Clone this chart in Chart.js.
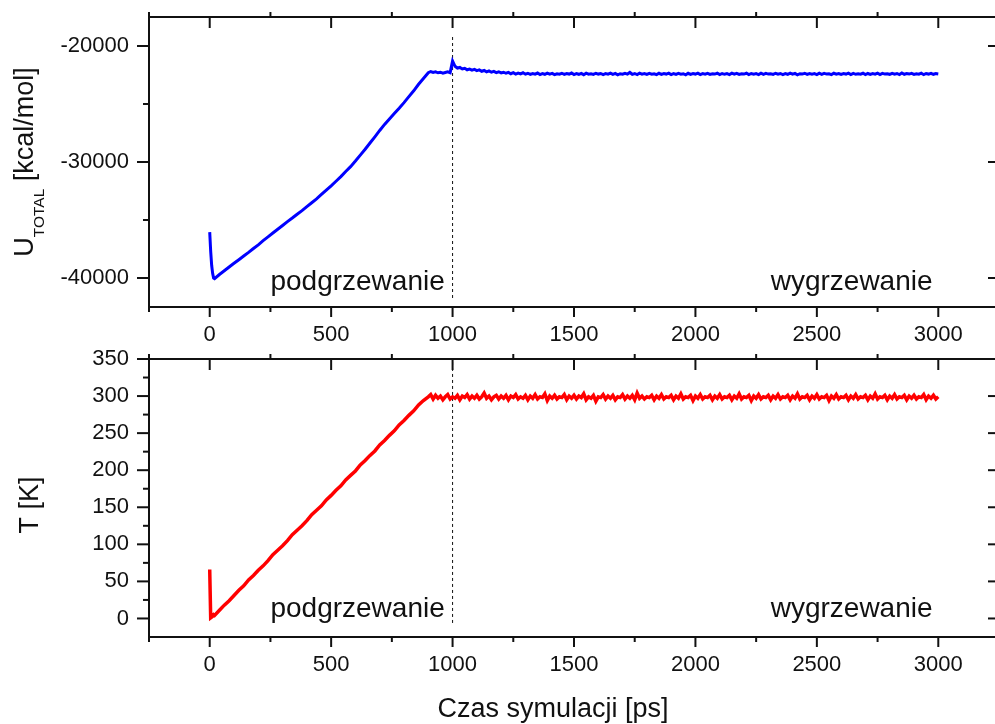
<!DOCTYPE html>
<html>
<head>
<meta charset="utf-8">
<script src="https://cdn.jsdelivr.net/npm/chart.js@4.4.1/dist/chart.umd.min.js"></script>
<style>
   html, body { margin: 0; padding: 0; background: #fff; overflow: hidden; }
   #wrap { position: relative; width: 995px; height: 724px; }
   canvas { position: absolute; left: 0; }
   #energyChart { top: 0; }
   #tempChart { top: 345px; }
</style>
</head>
<body>
<div id="wrap">
   <canvas id="energyChart" width="1000" height="350"></canvas>
   <canvas id="tempChart" width="1000" height="379"></canvas>
</div>
<script>
// --- dane ---
// czasy: początek, rampa co 20 ps (20..900), wygrzewanie co 10 ps (910..3000)
const earlyTimes = [0, 4, 8, 12, 16];
const rampTimes = Array.from({length: 45}, (_, i) => 20 + 20 * i);
const plateauTimes = Array.from({length: 210}, (_, i) => 910 + 10 * i);
const times = earlyTimes.concat(rampTimes, plateauTimes);

const energyEarly = [-36050, -37700, -38900, -39600, -40000];
const energyRamp = [
   -40050, -39700, -39380, -39050, -38730, -38420, -38100, -37790, -37460, -37140,
   -36780, -36450, -36120, -35800, -35470, -35140, -34830, -34500, -34190, -33840,
   -33510, -33180, -32800, -32420, -32050, -31660, -31260, -30820, -30400, -29920,
   -29410, -28900, -28360, -27830, -27280, -26760, -26290, -25820, -25370, -24880,
   -24360, -23860, -23300, -22800, -22300
];
const energyPlateau = [
   -22200, -22280, -22230, -22310, -22260, -22340, -22280, -22230, -22300, -21300,
   -21750, -21900, -21850, -21980, -21920, -22050, -21990, -22080, -22020, -22120,
   -22060, -22180, -22110, -22230, -22150, -22260, -22190, -22290, -22220, -22320,
   -22260, -22350, -22280, -22390, -22300, -22420, -22330, -22400, -22310, -22430,
   -22350, -22450, -22370, -22430, -22330, -22460, -22380, -22440, -22340, -22420,
   -22360, -22470, -22390, -22430, -22350, -22450, -22370, -22420, -22330, -22460,
   -22380, -22440, -22360, -22470, -22340, -22430, -22390, -22450, -22350, -22420,
   -22370, -22460, -22380, -22430, -22340, -22450, -22360, -22480, -22390, -22430,
   -22350, -22420, -22280, -22440, -22370, -22460, -22340, -22430, -22380, -22450,
   -22360, -22430, -22390, -22470, -22350, -22440, -22370, -22420, -22340, -22460,
   -22380, -22450, -22360, -22430, -22390, -22480, -22350, -22440, -22370, -22420,
   -22340, -22460, -22380, -22430, -22360, -22450, -22390, -22420, -22350, -22470,
   -22370, -22440, -22380, -22460, -22340, -22430, -22360, -22450, -22390, -22420,
   -22350, -22470, -22370, -22430, -22380, -22460, -22340, -22440, -22360, -22420,
   -22390, -22450, -22350, -22430, -22370, -22460, -22380, -22440, -22340, -22430,
   -22360, -22480, -22390, -22420, -22350, -22450, -22370, -22430, -22380, -22460,
   -22340, -22440, -22360, -22420, -22390, -22470, -22350, -22430, -22370, -22450,
   -22380, -22420, -22340, -22460, -22360, -22440, -22390, -22430, -22350, -22470,
   -22370, -22450, -22380, -22430, -22340, -22460, -22360, -22420, -22390, -22440,
   -22350, -22430, -22370, -22460, -22330, -22440, -22380, -22420, -22360, -22450,
   -22390, -22430, -22340, -22470, -22370, -22420, -22350, -22440, -22380, -22410
];
const energyValues = energyEarly.concat(energyRamp, energyPlateau);

const tempEarly = [66, 1, 2, 3, 5];
const tempRamp = [
   4, 11, 18, 24, 31, 38, 44, 52, 58, 65,
   71, 78, 86, 92, 98, 105, 113, 119, 125, 132,
   140, 146, 152, 160, 166, 173, 179, 187, 193, 199,
   207, 213, 220, 226, 234, 240, 247, 253, 261, 267,
   274, 280, 288, 294, 299
];
const tempPlateau = [
   302, 296, 301, 297, 300, 295, 299, 302, 296, 299,
   297, 301, 295, 300, 298, 302, 296, 300, 297, 301,
   296, 299, 304, 297, 300, 295, 299, 301, 296, 300,
   297, 301, 295, 300, 298, 302, 296, 299, 297, 301,
   295, 300, 297, 302, 296, 299, 298, 303, 294, 300,
   297, 301, 296, 299, 298, 302, 295, 300, 297, 301,
   296, 300, 298, 303, 295, 299, 297, 301, 293, 299,
   298, 302, 296, 300, 297, 301, 295, 299, 298, 302,
   296, 300, 297, 301, 295, 304, 297, 300, 296, 299,
   298, 301, 295, 300, 297, 302, 296, 299, 298, 301,
   295, 300, 297, 303, 296, 299, 298, 301, 294, 300,
   297, 302, 296, 299, 298, 301, 295, 300, 297, 302,
   296, 299, 298, 301, 295, 300, 297, 303, 296, 299,
   298, 301, 294, 300, 297, 302, 296, 299, 298, 301,
   295, 300, 297, 302, 296, 299, 298, 301, 295, 300,
   297, 303, 296, 299, 298, 301, 295, 300, 297, 302,
   296, 299, 298, 301, 294, 300, 297, 302, 296, 299,
   298, 301, 295, 300, 297, 302, 296, 299, 298, 301,
   295, 300, 297, 303, 296, 299, 298, 301, 295, 300,
   297, 302, 296, 299, 298, 301, 295, 300, 297, 301,
   296, 299, 298, 302, 295, 300, 297, 301, 296, 299
];
const tempValues = tempEarly.concat(tempRamp, tempPlateau);

const xTicks = [0, 500, 1000, 1500, 2000, 2500, 3000];
const xMinor = [-250, 250, 750, 1250, 1750, 2250, 2750, 3250];
const energyTicks = [-40000, -30000, -20000];
const energyMinor = [-35000, -25000];
const tempTicks = [0, 50, 100, 150, 200, 250, 300, 350];
const tempMinor = [25, 75, 125, 175, 225, 275, 325];

const FONT = '"Liberation Sans", Arial, sans-serif';
const INK = '#111';

// ramka, kreski podziałki i napisy w stylu Origin
function originAxes(cfg) {
   return {
      id: 'originAxes',
      afterDraw(chart) {
         const ctx = chart.ctx;
         const {left, right, top, bottom} = chart.chartArea;
         const xs = chart.scales.x;
         const ys = chart.scales.y;
         ctx.save();
         ctx.strokeStyle = INK;
         ctx.lineWidth = 2;
         ctx.strokeRect(left, top, right - left, bottom - top);

         const tick = (x1, y1, x2, y2) => {
            ctx.beginPath();
            ctx.moveTo(x1, y1);
            ctx.lineTo(x2, y2);
            ctx.stroke();
         };
         xTicks.forEach(v => {
            const px = xs.getPixelForValue(v);
            tick(px, bottom, px, bottom + 10);
            tick(px, top, px, top + 11);
         });
         xMinor.forEach(v => {
            const px = xs.getPixelForValue(v);
            tick(px, bottom, px, bottom + 5);
            tick(px, top, px, top - 5);
         });
         cfg.yMajor.forEach(v => {
            const py = ys.getPixelForValue(v);
            tick(left, py, left - 12, py);
            tick(right, py, right - 11, py);
         });
         cfg.yMinor.forEach(v => {
            const py = ys.getPixelForValue(v);
            tick(left, py, left - 6, py);
         });

         // napisy w polu wykresu
         ctx.fillStyle = INK;
         ctx.textBaseline = 'alphabetic';
         ctx.textAlign = 'left';
         ctx.font = '28px ' + FONT;
         cfg.notes.forEach(n => {
            ctx.fillText(n.text, xs.getPixelForValue(n.x), ys.getPixelForValue(n.y));
         });

         if (cfg.xTitle) {
            ctx.font = '27px ' + FONT;
            ctx.textAlign = 'center';
            ctx.fillText(cfg.xTitle.text, cfg.xTitle.x, cfg.xTitle.y);
         }

         // tytuł osi Y (obrócony, z indeksem dolnym)
         const parts = cfg.yTitle.parts;
         const widths = parts.map(p => {
            ctx.font = p.size + 'px ' + FONT;
            return ctx.measureText(p.text).width;
         });
         const total = widths.reduce((a, b) => a + b, 0);
         ctx.translate(cfg.yTitle.x, cfg.yTitle.y);
         ctx.rotate(-Math.PI / 2);
         ctx.textAlign = 'left';
         let pos = -total / 2;
         parts.forEach((p, i) => {
            ctx.font = p.size + 'px ' + FONT;
            ctx.fillText(p.text, pos, p.shift || 0);
            pos += widths[i];
         });
         ctx.restore();
      }
   };
}

function makePoints(values) {
   return values.map((v, i) => ({x: times[i], y: v}));
}

function dropPadding(s) {
   s.paddingTop = 0;
   s.paddingBottom = 0;
   s.paddingLeft = 0;
   s.paddingRight = 0;
}

function xScale(height) {
   return {
      type: 'linear',
      min: -250,
      max: 3250,
      afterBuildTicks: s => { s.ticks = xTicks.map(v => ({value: v})); },
      afterFit: s => { s.height = height; dropPadding(s); },
      grid: {display: false, drawTicks: false},
      border: {display: false},
      ticks: {
         padding: 15,
         color: INK,
         font: {size: 22, family: FONT},
         maxRotation: 0,
         autoSkip: false,
         callback: v => String(v)
      }
   };
}

function yScale(min, max, tickValues) {
   return {
      type: 'linear',
      min: min,
      max: max,
      afterBuildTicks: s => { s.ticks = tickValues.map(v => ({value: v})); },
      afterFit: s => { s.width = 149; dropPadding(s); },
      grid: {display: false, drawTicks: false},
      border: {display: false},
      ticks: {
         padding: 20,
         color: INK,
         font: {size: 22, family: FONT},
         autoSkip: false,
         callback: v => String(v)
      }
   };
}

function dashedLine(y1, y2) {
   return {
      data: [{x: 1000, y: y1}, {x: 1000, y: y2}],
      borderColor: INK,
      borderWidth: 1,
      borderDash: [3, 3],
      pointRadius: 0
   };
}

new Chart(document.getElementById('energyChart'), {
   type: 'line',
   data: {
      datasets: [
         {
            data: makePoints(energyValues),
            borderColor: '#0000ff',
            borderWidth: 3,
            pointRadius: 0,
            tension: 0
         },
         dashedLine(-19224, -41900)
      ]
   },
   options: {
      responsive: false,
      animation: false,
      layout: {padding: {top: 17, right: 1, left: 0, bottom: 0}},
      scales: {
         x: xScale(43),
         y: yScale(-42500, -17500, energyTicks)
      },
      plugins: {
         legend: {display: false},
         tooltip: {enabled: false}
      }
   },
   plugins: [originAxes({
      yMajor: energyTicks,
      yMinor: energyMinor,
      notes: [
         {text: 'podgrzewanie', x: 250, y: -41050},
         {text: 'wygrzewanie', x: 2310, y: -41050}
      ],
      yTitle: {
         x: 33, y: 162,
         parts: [
            {text: 'U', size: 27},
            {text: 'TOTAL', size: 15.5, shift: 11},
            {text: ' [kcal/mol]', size: 27}
         ]
      }
   })]
});

new Chart(document.getElementById('tempChart'), {
   type: 'line',
   data: {
      datasets: [
         {
            data: makePoints(tempValues),
            borderColor: '#ff0000',
            borderWidth: 3.5,
            pointRadius: 0,
            tension: 0
         },
         dashedLine(346, -9)
      ]
   },
   options: {
      responsive: false,
      animation: false,
      layout: {padding: {top: 14, right: 1, left: 0, bottom: 0}},
      scales: {
         x: xScale(87),
         y: yScale(-25, 350, tempTicks)
      },
      plugins: {
         legend: {display: false},
         tooltip: {enabled: false}
      }
   },
   plugins: [originAxes({
      yMajor: tempTicks,
      yMinor: tempMinor,
      notes: [
         {text: 'podgrzewanie', x: 250, y: 2},
         {text: 'wygrzewanie', x: 2310, y: 2}
      ],
      yTitle: {
         x: 37.5, y: 160,
         parts: [{text: 'T [K]', size: 27}]
      },
      xTitle: {text: 'Czas symulacji [ps]', x: 553, y: 372}
   })]
});
</script>
</body>
</html>
